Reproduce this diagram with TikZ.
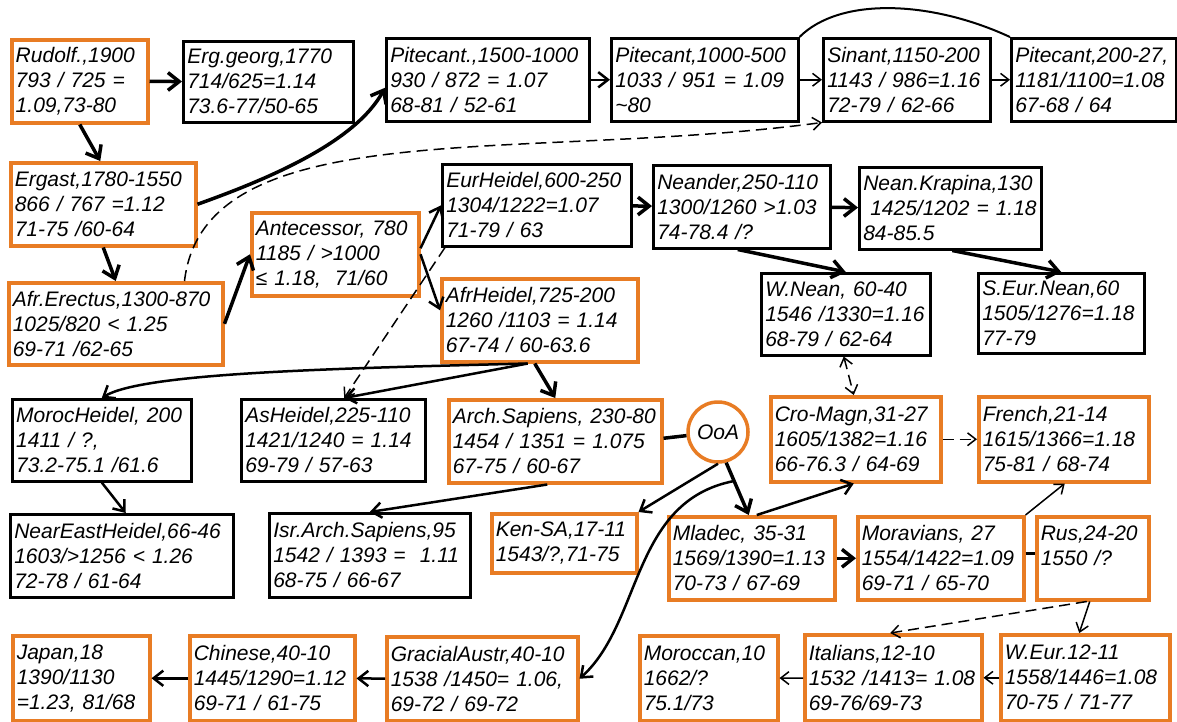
\documentclass[tikz,border=0pt]{standalone}
\usepackage{fontspec}
\setmainfont{Liberation Sans}
\usetikzlibrary{arrows.meta,calc}
\definecolor{boxorange}{RGB}{232,124,36}

\begin{document}
\begin{tikzpicture}[x=1pt,y=-1pt,
  >={Straight Barb[length=6pt 1.5,width=9pt 2.5]},
  font=\fontsize{21}{25}\selectfont\itshape,
  blk/.style={draw,line width=2.5pt,anchor=north west,align=left,inner xsep=4pt,inner ysep=2pt,minimum height=83pt,text width=#1},
  org/.style={blk=#1,draw=boxorange,line width=3.5pt},
  thk/.style={line width=3.5pt},
  med/.style={line width=2.5pt},
  thn/.style={line width=1.5pt},
  dsh/.style={line width=1.5pt,dash pattern=on 11pt off 6pt}]
\useasboundingbox (0,0) rectangle (1177,721);

\node[org=128pt] (rudolf) at (10,38) {Rudolf.,1900\\793 / 725 =\\1.09,73-80};
\node[blk=162pt,minimum height=81pt] (erggeorg) at (182,40) {Erg.georg,1770\\714/625=1.14\\73.6-77/50-65};
\node[blk=195pt] (pit1) at (385,37) {Pitecant.,1500-1000\\930 / 872 = 1.07\\68-81 / 52-61};
\node[blk=179pt] (pit2) at (610,37) {Pitecant,1000-500\\1033 / 951 = 1.09\\\textasciitilde80};
\node[blk=159pt] (sinant) at (822,37) {Sinant,1150-200\\1143 / 986=1.16\\72-79 / 62-66};
\node[blk=157pt] (pit3) at (1010,37) {Pitecant,200-27,\\1181/1100=1.08\\67-68 / 64};

\node[org=177pt] (ergast) at (9,161) {Ergast,1780-1550\\866 / 767 =1.12\\71-75 /60-64};
\node[org=206pt,minimum height=82pt] (afrerectus) at (7,281) {Afr.Erectus,1300-870\\1025/820 < 1.25\\69-71 /62-65};
\node[org=159pt] (antecessor) at (250,211) {Antecessor, 780\\1185 / >1000\\≤ 1.18,\ \ 71/60};
\node[blk=181pt,minimum height=82pt] (eurheidel) at (441,163) {EurHeidel,600-250\\1304/1222=1.07\\71-79 / 63};
\node[blk=169pt] (neander) at (652,164) {Neander,250-110\\1300/1260 >1.03\\74-78.4 /?};
\node[blk=174pt,minimum height=82pt] (krapina) at (858,166) {Nean.Krapina,130\\\ 1425/1202 = 1.18\\84-85.5};
\node[org=188pt] (afrheidel) at (440,277) {AfrHeidel,725-200\\1260 /1103 = 1.14\\67-74 / 60-63.6};
\node[blk=161pt,minimum height=82pt] (wnean) at (760,272) {W.Nean, 60-40\\1546 /1330=1.16\\68-79 / 62-64};
\node[blk=158pt,minimum height=80pt] (seurnean) at (977,272) {S.Eur.Nean,60\\1505/1276=1.18\\77-79};

\node[blk=171pt,minimum height=82pt] (moroc) at (11,398) {MorocHeidel, 200\\1411 / ?,\\73.2-75.1 /61.6};
\node[blk=176pt,minimum height=82pt] (asheidel) at (240,398) {AsHeidel,225-110\\1421/1240 = 1.14\\69-79 / 57-63};
\node[org=205pt] (archsap) at (447,398) {Arch.Sapiens, 230-80\\1454 / 1351 = 1.075\\67-75 / 60-67};
\node[circle,draw=boxorange,line width=3.5pt,minimum size=60pt,inner sep=0pt] (ooa) at (718,432) {OoA};
\node[org=162pt,minimum height=85pt] (cromagn) at (769,395) {Cro-Magn,31-27\\1605/1382=1.16\\66-76.3 / 64-69};
\node[org=162pt,minimum height=85pt] (french) at (977,395) {French,21-14\\1615/1366=1.18\\75-81 / 68-74};

\node[blk=215pt] (neareast) at (9,513) {NearEastHeidel,66-46\\1603/>1256 < 1.26\\72-78 / 61-64};
\node[blk=193pt,minimum height=84pt] (isr) at (268,512) {Isr.Arch.Sapiens,95\\1542 / 1393 =\ \ 1.11\\68-75 / 66-67};
\node[org=137pt,minimum height=59pt] (kensa) at (490,512) {Ken-SA,17-11\\1543/?,71-75};
\node[org=158pt] (mladec) at (667,515) {Mladec, 35-31\\1569/1390=1.13\\70-73 / 67-69};
\node[org=158pt] (moravians) at (856,515) {Moravians, 27\\1554/1422=1.09\\69-71 / 65-70};
\node[org=104pt] (rus) at (1035,515) {Rus,24-20\\1550 /?\\\mbox{}};

\node[org=129pt,minimum height=85pt] (japan) at (11,634) {Japan,18\\1390/1130\\=1.23, 81/68};
\node[org=157pt,minimum height=85pt] (chinese) at (188,634) {Chinese,40-10\\1445/1290=1.12\\69-71 / 61-75};
\node[org=183pt,minimum height=84pt] (gracial) at (385,635) {GracialAustr,40-10\\1538 /1450= 1.06,\\69-72 / 69-72};
\node[org=130pt,minimum height=85pt] (moroccan) at (638,634) {Moroccan,10\\1662/?\\75.1/73};
\node[org=169pt,minimum height=86pt] (italians) at (803,633) {Italians,12-10\\1532 /1413= 1.08\\69-76/69-73};
\node[org=161pt,minimum height=86pt] (weur) at (999,633) {W.Eur.12-11\\1558/1446=1.08\\70-75 / 71-77};

\draw[thk,->] (rudolf) -- (erggeorg);
\draw[thk,->] (rudolf.south) -- ([xshift=-3pt]ergast.north);
\draw[thk,->] (ergast.east) .. controls +(70,-25) and +(-30,55) .. ([yshift=-8pt]pit1.west);
\draw[thk,->] (ergast.south) -- (afrerectus.north);
\draw[thk,->] (afrerectus.east) -- (antecessor.west);
\draw[dsh,->] ([xshift=-40pt]afrerectus.north east) .. controls +(20,-170) and +(-300,40) .. (sinant.south west);
\draw[med,->] ([yshift=6pt]antecessor.east) -- (eurheidel.west);
\draw[med,->] (antecessor.east) -- ([yshift=10pt]afrheidel.west);
\draw[med,->] (pit1) -- (pit2);
\draw[thn,->] (pit2) -- (sinant);
\draw[thn,->] (sinant) -- (pit3);
\draw[line width=2pt] (pit2.north east) .. controls +(40,-40) and +(-80,-37) .. (pit3.north west);
\draw[thk,->] (eurheidel) -- (neander);
\draw[thk,->] (neander) -- (krapina);
\draw[thk,->] ([xshift=-4pt]neander.south) -- (wnean.north);
\draw[thk,->] ([xshift=2pt]krapina.south) -- (seurnean.north);
\draw[dsh,->] ([xshift=4pt]eurheidel.south west) -- ([xshift=11pt]asheidel.north);
\draw[med,->] ([xshift=-12pt]afrheidel.south) .. controls +(-200,5) and +(40,-25) .. (moroc.north);
\draw[med,->] ([xshift=-12pt]afrheidel.south) -- ([xshift=11pt]asheidel.north);
\draw[thk,->] ([xshift=-5pt]afrheidel.south) -- (archsap.north);
\draw[med,->] (moroc.south) -- ([xshift=4pt]neareast.north);
\draw[thk] ([yshift=3pt]archsap.east) -- (ooa);
\draw[med,->] ([xshift=-8pt]archsap.south) -- (isr.north);
\draw[dsh,<->] ([xshift=-2pt]wnean.south) -- ([xshift=-2pt]cromagn.north);
\draw[dsh,->] (cromagn) -- (french);
\draw[med,->] (ooa.south) -- (kensa.north east);
\draw[thk,->] (ooa.-75) -- ([xshift=-3pt]mladec.north);
\draw[med,->] ($(ooa.-75)!0.35!([xshift=-3pt]mladec.north)$) .. controls +(-103,20) and +(63,-57) .. (gracial.east);
\draw[med,->] ([xshift=5pt]mladec.north) -- ([xshift=-2pt]cromagn.south);
\draw[thk,->] (mladec) -- (moravians);
\draw[thk] ([yshift=5pt]moravians.east) -- ([yshift=5pt]rus.west);
\draw[thn,->] (moravians.north east) -- ([xshift=1pt]french.south);
\draw[thn,->] ([xshift=-3pt]rus.south) -- ([xshift=-6pt]weur.north);
\draw[dsh,->] ([xshift=-6pt]rus.south) -- ([xshift=-3pt]italians.north);
\draw[thn,->] (weur) -- (italians);
\draw[thn,->] (italians) -- (moroccan);
\draw[med,->] (gracial) -- (chinese);
\draw[med,->] (chinese) -- (japan);
\end{tikzpicture}
\end{document}
